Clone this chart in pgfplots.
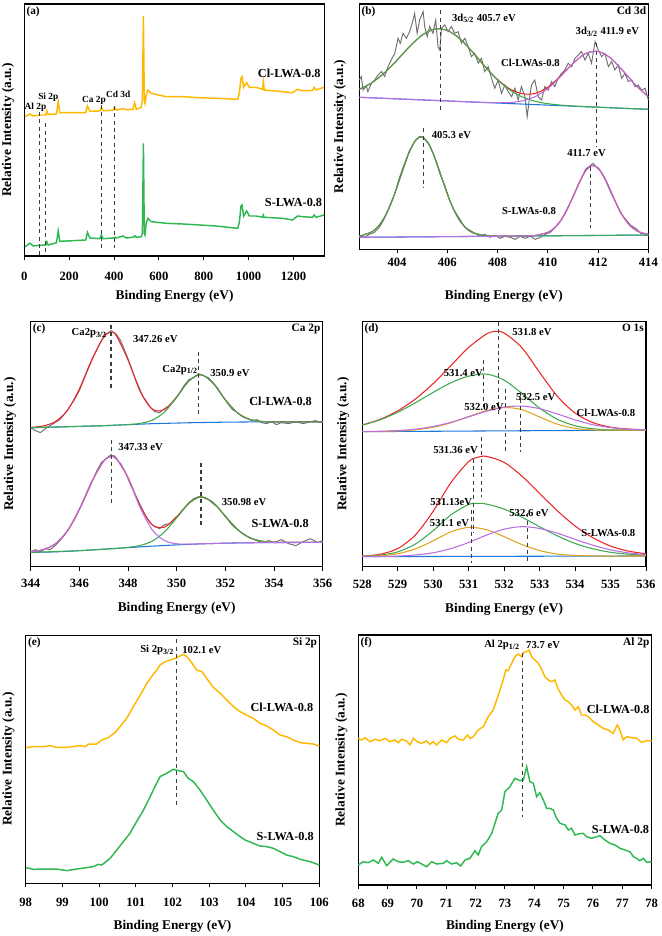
\documentclass[border=0pt]{standalone}
\usepackage{pgfplots}
\pgfplotsset{compat=1.18}
\usepackage{fontspec}
\setmainfont{Liberation Serif}
\definecolor{gold}{RGB}{255,184,0}
\definecolor{grn}{RGB}{46,184,82}
\definecolor{fred}{RGB}{235,40,40}
\definecolor{fgreen}{RGB}{60,170,80}
\definecolor{fpurple}{RGB}{185,110,225}
\definecolor{fblue}{RGB}{30,120,220}
\definecolor{forange}{RGB}{225,165,30}
\definecolor{rawgray}{RGB}{110,110,110}
\definecolor{dashc}{RGB}{60,60,60}
\newcommand{\pk}{\fontsize{8}{9}\selectfont\bfseries}
\newcommand{\smp}{\fontsize{9.2}{10}\selectfont\bfseries}
\newcommand{\tl}{\fontsize{8.5}{9}\selectfont\bfseries}
\pgfplotsset{
  panel/.style={
    scale only axis, anchor=south west, ymin=0,
    ytick=\empty, xtick pos=left, tick align=outside,
    major tick length=3pt,
    tick style={black, line width=0.7pt},
    axis line style={line width=0.8pt},
    clip=false,
    /pgf/number format/assume math mode=true,
    /pgf/number format/1000 sep={},
    ticklabel style={font=\fontsize{9.5}{10}\selectfont\bfseries},
    xlabel={Binding Energy (eV)},
    ylabel={Relative Intensity (a.u.)},
    label style={font=\fontsize{10}{11}\selectfont\bfseries},
  },
  raw/.style={line width=1.1pt},
  fit/.style={line width=0.8pt, smooth},
  gr/.style={rawgray, line width=0.7pt},
  dl/.style={dashc, line width=0.8pt, dash pattern=on 3pt off 2.5pt},
}
\begin{document}
\begin{tikzpicture}
\path[use as bounding box] (0,0) rectangle (495.75pt,702pt);
% ---------------- (a)
\begin{axis}[panel, at={(18.2pt,510pt)}, width=225.5pt, height=189pt,
  xmin=0, xmax=1340, ymax=252, xtick={0,200,...,1200},
  xticklabel style={anchor=center, yshift=-12.5pt},
  xlabel style={at={(axis description cs:0.5,-0.159)}, anchor=center},
  ylabel style={at={(axis description cs:-0.054,0.5)}, anchor=center}]
\addplot[raw, gold] coordinates {(3,139.3)(25.2,142.0)(40,140.0)(69.6,141.0)(96.3,141.0)(100.7,145.0)(106.7,141.7)(143.7,142.0)(151.1,154.3)(158.5,143.3)(217.8,143.3)(274.1,143.3)(281.5,150.0)(291.9,144.7)(336.3,145.0)(343.7,148.7)(351.1,145.3)(395.6,145.7)(403,148.7)(410.4,146.0)(440,147.3)(454.8,146.3)(484.4,146.7)(491.9,153.3)(499.3,146.7)(521.5,148.7)(526.5,156.0)(531,240.0)(535,156.0)(538,152.7)(543.7,161.0)(551.1,166.0)(565.9,162.7)(632.6,159.3)(706.7,159.3)(780.7,158.3)(854.8,157.7)(951.1,156.7)(958.5,162.7)(965.9,177.7)(970.4,179.3)(977.8,168.7)(991.1,173.3)(1003,168.7)(1032.6,168.7)(1062.2,166.7)(1065.2,174.3)(1069.6,166.0)(1151.1,164.3)(1195.6,163.3)(1217.8,166.7)(1240,165.3)(1284.4,165.3)(1291.9,168.7)(1299.3,166.0)(1336.3,168.7)};
\addplot[raw, grn] coordinates {(3,9.3)(25.2,12.7)(40,10.0)(69.6,10.7)(96.3,11.0)(100.7,14.3)(106.7,11.0)(143.7,13.3)(151.1,25.0)(158.5,14.7)(217.8,15.3)(274.1,16.0)(281.5,23.7)(291.9,18.0)(336.3,17.3)(343.7,21.0)(351.1,17.3)(395.6,18.0)(403,18.7)(410.4,18.0)(440,20.0)(454.8,18.0)(484.4,18.7)(491.9,20.3)(499.3,18.7)(521.5,19.3)(526.5,22.7)(531,112.7)(535,22.7)(538,21.0)(543.7,33.3)(551.1,37.7)(565.9,34.3)(632.6,32.7)(706.7,32.0)(780.7,31.0)(854.8,30.0)(951.1,27.7)(958.5,33.3)(965.9,50.0)(970.4,51.0)(977.8,40.0)(991.1,45.0)(1003,40.0)(1032.6,40.0)(1062.2,38.7)(1065.2,41.0)(1069.6,38.7)(1151.1,37.7)(1195.6,36.0)(1217.8,40.0)(1240,39.3)(1284.4,38.7)(1291.9,41.0)(1299.3,38.7)(1336.3,41.0)};
\addplot[dl] coordinates {(68,144)(68,1)};
\addplot[dl] coordinates {(96.5,132.7)(96.5,1)};
\addplot[dl] coordinates {(344,151)(344,6)};
\addplot[dl] coordinates {(403,150)(403,7.7)};
\node[font=\fontsize{7}{8}\selectfont\bfseries] at (axis cs:50,149) {Al 2p};
\node[font=\fontsize{7}{8}\selectfont\bfseries] at (axis cs:107,159) {Si 2p};
\node[font=\fontsize{7}{8}\selectfont\bfseries] at (axis cs:311,156) {Ca 2p};
\node[font=\fontsize{7}{8}\selectfont\bfseries] at (axis cs:419,162) {Cd 3d};
\node[font=\smp] at (axis cs:1181,183) {Cl-LWA-0.8};
\node[font=\smp] at (axis cs:1200,53) {S-LWA-0.8};
\node[font=\tl, anchor=north west, inner sep=1.5pt] at (rel axis cs:0,1) {(a)};
\end{axis}
% ---------------- (b)
\begin{axis}[panel, at={(269.5pt,515pt)}, width=216.75pt, height=184pt,
  xmin=402.5, xmax=414, ymax=245.3, xtick={404,406,...,414},
  xticklabel style={anchor=center, yshift=-6.5pt},
  xlabel style={at={(axis description cs:0.5,-0.19)}, anchor=center},
  ylabel style={at={(axis description cs:-0.067,0.5)}, anchor=center}]
\addplot[gr] coordinates {(402.5,169.3)(402.58,172.7)(402.65,159.3)(402.78,163.3)(402.84,157.7)(402.98,166)(403.11,169.3)(403.24,174.3)(403.38,177.7)(403.51,172.7)(403.64,182.7)(403.77,189.3)(403.91,196)(404.04,211)(404.13,206)(404.24,216)(404.37,211)(404.50,217.7)(404.64,229.3)(404.70,236)(404.80,216)(404.90,229.3)(405.04,237.7)(405.10,222.7)(405.20,212.7)(405.30,222.7)(405.43,216)(405.54,229.3)(405.63,202.7)(405.70,199.3)(405.77,221)(405.90,224.3)(406.03,217.7)(406.16,222.7)(406.30,216)(406.43,217.7)(406.56,206)(406.70,211)(406.83,202.7)(406.96,192.7)(407.09,196)(407.23,186)(407.36,191)(407.49,177.7)(407.63,182.7)(407.76,171)(407.89,161)(408.02,169.3)(408.16,156)(408.29,164.3)(408.42,157.7)(408.56,152.7)(408.69,161)(408.82,149.3)(408.95,162.7)(409.09,152.7)(409.18,132.7)(409.26,149.3)(409.35,164.3)(409.48,169.3)(409.62,152.7)(409.75,149.3)(409.88,162.7)(410.02,159.3)(410.15,167.7)(410.28,162.7)(410.41,171)(410.55,176)(410.68,179.3)(410.81,186)(410.95,182.7)(411.08,191)(411.21,194.3)(411.34,197.7)(411.48,189.3)(411.61,196)(411.74,186)(411.88,207.7)(412.01,199.3)(412.14,192.7)(412.27,196)(412.41,182.7)(412.54,187.7)(412.67,179.3)(412.80,184.3)(412.94,171)(413.07,176)(413.20,167.7)(413.34,169.3)(413.47,162.7)(413.60,164.3)(413.73,159.3)(413.87,161)(414.00,149.3)};
\addplot[gr] coordinates {(402.5,14)(402.7,12)(402.9,15)(403.1,17)(403.3,22)(403.5,31)(403.7,43)(403.9,55)(404.1,72)(404.3,86)(404.5,99)(404.7,108)(404.9,113)(405.0,112)(405.1,110)(405.3,104)(405.5,92)(405.7,76)(405.9,64)(406.1,48)(406.3,38)(406.5,30)(406.7,22)(406.9,19)(407.1,16)(407.3,13)(407.5,15)(407.7,12)(407.9,14)(408.1,11)(408.3,13)(408.5,12)(408.7,10)(408.9,13)(409.1,11)(409.3,13)(409.5,10)(409.7,12)(409.9,15)(410.1,17)(410.3,22)(410.5,28)(410.7,37)(410.9,47)(411.1,58)(411.3,69)(411.5,80)(411.7,84)(411.8,86)(411.9,83)(412.1,78)(412.3,69)(412.5,57)(412.7,47)(412.9,36)(413.1,30)(413.3,24)(413.5,21)(413.7,16)(413.9,15)(414,14)};
\addplot[fit, fblue] coordinates {(402.5,152)(414,140)};
\addplot[fit, fblue] coordinates {(402.5,12.0)(414,14.3)};
\addplot[fit, fred] coordinates {(402.5,160.0)(403,166.6)(403.5,176.5)(404,189.1)(404.5,202.8)(405,214.2)(405.5,220.3)(406,218.9)(406.5,210.6)(407,197.4)(407.5,182.8)(408,169.7)(408.5,160.2)(409,155.5)(409.5,155.9)(410,162.1)(410.5,173.1)(411,185.9)(411.5,195.7)(412,197.9)(412.5,191.2)(413,178.2)(413.5,164.1)(414,152.6)};
\addplot[fit, fgreen] coordinates {(402.5,160.0)(403,166.6)(403.5,176.5)(404,189.1)(404.5,202.8)(405,214.2)(405.5,220.3)(406,218.9)(406.5,210.6)(407,197.4)(407.5,182.7)(408,169.4)(408.5,159.1)(409,152.2)(409.5,147.9)(410,145.6)(410.5,144.2)(411,143.3)(411.5,142.6)(412,142.1)(413,141.0)(414,140.0)};
\addplot[fit, fpurple] coordinates {(402.5,152)(405,149.4)(407,147.3)(407.5,146.9)(408,146.6)(408.5,146.8)(409,148.5)(409.5,152.7)(410,160.7)(410.5,172.6)(411,185.7)(411.5,195.7)(412,197.9)(412.5,191.2)(413,178.2)(413.5,164.1)(414,152.6)};
\addplot[fit, fred] coordinates {(402.5,13.0)(403,17.5)(403.25,22.9)(403.5,32.0)(403.75,45.2)(404,62.3)(404.25,80.9)(404.5,98.0)(404.75,109.4)(405,112.3)(405.25,105.9)(405.5,91.8)(405.75,73.7)(406,55.5)(406.25,40.0)(406.5,28.6)(406.75,21.1)(407,16.8)(407.5,13.7)(408,13.2)(409,13.35)(409.5,13.9)(410,17.0)(410.25,21.2)(410.5,28.2)(410.75,38.9)(411,52.4)(411.25,66.7)(411.5,78.2)(411.75,83.7)(412,81.4)(412.25,72.0)(412.5,58.5)(412.75,44.5)(413,32.6)(413.25,24.2)(413.5,19.0)(413.75,16.4)(414,15.1)};
\addplot[fit, fgreen] coordinates {(402.5,13.0)(403,17.5)(403.25,22.9)(403.5,32.0)(403.75,45.2)(404,62.3)(404.25,80.9)(404.5,98.0)(404.75,109.4)(405,112.3)(405.25,105.9)(405.5,91.8)(405.75,73.7)(406,55.5)(406.25,40.0)(406.5,28.6)(406.75,21.1)(407,16.8)(407.5,13.7)(408,13.2)(409,13.3)(414,14.3)};
\addplot[fit, fpurple] coordinates {(402.5,12.0)(409,13.3)(409.5,13.9)(410,17.0)(410.25,21.2)(410.5,28.2)(410.75,38.9)(411,52.4)(411.25,66.7)(411.5,78.2)(411.75,83.7)(412,81.4)(412.25,72.0)(412.5,58.5)(412.75,44.5)(413,32.6)(413.25,24.2)(413.5,19.0)(413.75,16.4)(414,15.1)};
\addplot[dl] coordinates {(405.73,239)(405.73,137.7)};
\addplot[dl] coordinates {(411.94,206)(411.94,102.7)};
\addplot[dl] coordinates {(405.04,121)(405.04,61)};
\addplot[dl] coordinates {(411.68,82.7)(411.68,21)};
\node[font=\pk, anchor=west] at (axis cs:406.0,231) {3d\textsubscript{5/2} 405.7 eV};
\node[font=\pk] at (axis cs:412.37,217.7) {3d\textsubscript{3/2} 411.9 eV};
\node[font=\pk] at (axis cs:409.31,186) {Cl-LWAs-0.8};
\node[font=\pk, anchor=west] at (axis cs:405.2,114.3) {405.3 eV};
\node[font=\pk] at (axis cs:411.54,96) {411.7 eV};
\node[font=\pk] at (axis cs:409.25,38.7) {S-LWAs-0.8};
\node[font=\tl, anchor=north west, inner sep=1.5pt] at (rel axis cs:0,1) {(b)};
\node[font=\tl, anchor=north east, inner sep=1.5pt] at (rel axis cs:1,1) {Cd 3d};
\end{axis}
% ---------------- (c)
\begin{axis}[panel, at={(23pt,277pt)}, width=219pt, height=183.75pt,
  xmin=344, xmax=356, ymax=245, xtick={344,346,...,356},
  xticklabel style={anchor=center, yshift=-9.5pt},
  xlabel style={at={(axis description cs:0.5,-0.17)}, anchor=center},
  ylabel style={at={(axis description cs:-0.071,0.5)}, anchor=center}]
\addplot[gr] coordinates {(344.0,139)(344.2,136)(344.4,134)(344.6,138)(344.8,141)(345.0,144)(345.2,147)(345.5,156)(345.8,167)(346.0,176)(346.3,194)(346.6,211)(346.9,226)(347.1,232)(347.3,236)(347.5,233)(347.7,226)(348.0,208)(348.3,188)(348.6,171)(348.9,160)(349.1,155)(349.3,154)(349.5,158)(349.7,161)(349.9,166)(350.1,173)(350.3,181)(350.5,187)(350.7,189)(350.9,193)(351.1,191)(351.3,189)(351.5,184)(351.7,178)(351.9,170)(352.1,163)(352.3,157)(352.5,154)(352.7,150)(352.9,148)(353.1,146)(353.3,147)(353.5,144)(353.7,143)(353.9,145)(354.1,142)(354.3,144)(354.6,143)(354.9,145)(355.2,143)(355.5,145)(355.7,146)(356.0,144)};
\addplot[gr] coordinates {(344.0,15)(344.2,17)(344.4,15)(344.6,18)(344.8,17)(345.0,21)(345.2,26)(345.5,35)(345.8,47)(346.1,62)(346.4,78)(346.7,95)(346.9,104)(347.1,108)(347.3,112)(347.5,108)(347.7,103)(347.9,94)(348.1,82)(348.3,72)(348.5,62)(348.7,52)(348.9,44)(349.1,40)(349.3,38)(349.5,42)(349.7,43)(349.9,48)(350.1,52)(350.3,58)(350.5,64)(350.7,68)(350.9,70)(351.1,69)(351.3,67)(351.5,63)(351.7,59)(351.9,53)(352.1,47)(352.3,41)(352.5,37)(352.7,33)(352.9,30)(353.1,28)(353.3,26)(353.5,24)(353.8,26)(354.0,24)(354.3,27)(354.6,23)(354.9,21)(355.2,25)(355.5,28)(355.8,24)(356.0,26)};
\addplot[fit, fblue] coordinates {(344,139.0)(344.5,139.3)(345,139.6)(345.5,139.9)(346,140.3)(346.5,140.6)(347,141.0)(347.5,141.5)(348,142.0)(348.5,142.5)(349,143.0)(349.5,143.3)(350,143.6)(350.5,143.9)(351,144.1)(351.5,144.3)(352,144.5)(352.5,144.6)(353,144.7)(356,144.7)};
\addplot[fit, fred] coordinates {(344,139.3)(344.5,140.6)(345,144.9)(345.5,156.0)(346,177.6)(346.5,206.4)(347,229.6)(347.25,234.2)(347.5,231.8)(348,206.8)(348.5,175.3)(349,157.4)(349.5,157.2)(350,169.8)(350.5,185.6)(351,192.0)(351.5,183.3)(352,166.9)(352.5,153.8)(353,147.3)(353.5,145.2)(354,144.8)(356,144.7)};
\addplot[fit, fgreen] coordinates {(344,139.0)(347,141.0)(348,142.1)(348.5,143.3)(349,146.5)(349.5,154.6)(350,169.4)(350.5,185.6)(351,192.0)(351.5,183.3)(352,166.9)(352.5,153.8)(353,147.3)(353.5,145.2)(354,144.8)(356,144.7)};
\addplot[fit, fblue] coordinates {(344,14.3)(345,14.8)(346,16.0)(347,17.5)(348,19.0)(349,20.5)(350,21.8)(351,22.8)(352,23.5)(353,23.9)(354,24.1)(355,24.2)(356,24.3)};
\addplot[fit, fred] coordinates {(344,14.9)(344.5,16.9)(345,22.6)(345.5,35.6)(346,57.4)(346.5,84.3)(347,105.5)(347.33,110.3)(347.5,109.0)(348,89.2)(348.5,60.5)(349,41.8)(349.5,39.6)(350,49.9)(350.5,63.4)(351,69.8)(351.5,64.1)(352,50.5)(352.5,37.2)(353,29.0)(353.5,25.5)(354,24.4)(356,24.3)};
\addplot[fit, fgreen] coordinates {(344,14.3)(346,16.0)(347.5,18.2)(348,19.3)(348.5,21.2)(349,25.6)(349.5,34.7)(350,48.8)(350.5,63.2)(351,69.8)(351.5,64.1)(352,50.5)(352.5,37.2)(353,29.0)(353.5,25.5)(354,24.4)(356,24.3)};
\addplot[fit, fpurple] coordinates {(344,14.9)(344.5,16.9)(345,22.6)(345.5,35.6)(346,57.4)(346.5,84.3)(347,105.5)(347.33,110.3)(347.5,109.0)(348,88.9)(348.5,59.0)(349,36.7)(349.5,26.1)(350,22.9)(350.5,22.5)(351,22.8)(352,23.5)(353,23.9)(354,24.1)(356,24.3)};
\addplot[dl] coordinates {(347.3,241.7)(347.3,177.3)};
\addplot[dl] coordinates {(350.9,215)(350.9,151.7)};
\addplot[dl] coordinates {(347.33,126.7)(347.33,63.3)};
\addplot[dl] coordinates {(351.0,104)(351.0,41.7)};
\node[font=\pk] at (axis cs:346.41,233.3) {Ca2p\textsubscript{3/2}};
\node[font=\pk] at (axis cs:349.12,227.3) {347.26 eV};
\node[font=\pk] at (axis cs:350.14,196.7) {Ca2p\textsubscript{1/2}};
\node[font=\pk] at (axis cs:352.19,194) {350.9 eV};
\node[font=\smp] at (axis cs:354.27,165) {Cl-LWA-0.8};
\node[font=\pk] at (axis cs:348.52,120) {347.33 eV};
\node[font=\pk] at (axis cs:352.77,65) {350.98 eV};
\node[font=\smp] at (axis cs:354.25,42.7) {S-LWA-0.8};
\node[font=\tl, anchor=north west, inner sep=1.5pt] at (rel axis cs:0,1) {(c)};
\node[font=\tl, anchor=north east, inner sep=1.5pt] at (rel axis cs:1,1) {Ca 2p};
\end{axis}
% ---------------- (d)
\begin{axis}[panel, at={(271.7pt,277pt)}, width=212.8pt, height=183.75pt,
  xmin=528, xmax=536, ymax=245, xtick={528,529,...,536},
  xticklabel style={anchor=center, yshift=-10pt},
  xlabel style={at={(axis description cs:0.5,-0.173)}, anchor=center},
  ylabel style={at={(axis description cs:-0.067,0.5)}, anchor=center}]
\addplot[fit, fblue] coordinates {(528,135.0)(536,136.6)};
\addplot[fit, fred] coordinates {(528,141.7)(528.5,147.2)(529,155.8)(529.5,167.7)(530,183.1)(530.5,201.1)(531,219.2)(531.5,232.6)(531.75,235.2)(532,233.6)(532.5,219.0)(533,194.3)(533.5,170.4)(534,153.6)(534.5,144.1)(535,139.5)(535.5,137.6)(536,136.9)};
\addplot[fit, fgreen] coordinates {(528,141.6)(528.5,146.8)(529,154.4)(529.5,163.9)(530,174.3)(530.5,183.9)(531,190.5)(531.5,192.6)(532,186.5)(532.5,173.2)(533,158.6)(533.5,147.4)(534,140.9)(534.5,137.9)(535,136.8)(535.5,136.6)(536,136.6)};
\addplot[fit, forange] coordinates {(528,135.0)(528.5,135.2)(529,135.7)(529.5,136.9)(530,139.4)(530.5,143.9)(531,150.1)(531.5,156.0)(532,159.2)(532.5,157.0)(533,149.7)(533.5,142.5)(534,138.3)(534.5,136.8)(535,136.5)(536,136.6)};
\addplot[fit, fpurple] coordinates {(528,135.1)(528.5,135.4)(529,136.1)(529.5,137.5)(530,140.2)(530.5,144.3)(531,149.8)(531.5,155.4)(532,159.5)(532.5,160.6)(533,158.0)(533.5,152.7)(534,146.8)(534.5,142.0)(535,139.0)(535.5,137.5)(536,136.9)};
\addplot[fit, fblue] coordinates {(528,10.0)(536,10.7)};
\addplot[fit, fred] coordinates {(528,10.5)(528.5,12.4)(529,18.1)(529.5,31.8)(530,55.4)(530.5,84.1)(531,105.1)(531.25,109.3)(531.5,110.3)(532,104.3)(532.5,90.6)(533,73.2)(533.5,55.9)(534,40.7)(534.5,29.0)(535,20.6)(535.5,15.6)(536,12.9)};
\addplot[fit, fgreen] coordinates {(528,10.3)(528.5,11.5)(529,14.8)(529.5,22.7)(530,36.0)(530.5,51.8)(531,62.2)(531.25,63.3)(531.5,62.6)(532,57.6)(532.5,49.5)(533,39.9)(533.5,30.8)(534,23.2)(534.5,17.9)(535,14.4)(535.5,12.5)(536,11.5)};
\addplot[fit, forange] coordinates {(528,10.2)(528.5,10.9)(529,12.9)(529.5,17.8)(530,25.9)(530.5,34.8)(531,39.3)(531.5,37.0)(532,30.0)(532.5,22.1)(533,16.1)(533.5,12.6)(534,11.2)(534.5,10.8)(535,10.6)(536,10.7)};
\addplot[fit, fpurple] coordinates {(528,10.0)(528.5,10.2)(529,10.6)(529.5,11.7)(530,13.9)(530.5,18.1)(531,24.2)(531.5,31.5)(532,37.5)(532.5,40.0)(533,38.2)(533.5,33.5)(534,27.3)(534.5,21.5)(535,16.8)(535.5,13.8)(536,12.1)};
\addplot[dl] coordinates {(531.85,245)(531.85,151.7)};
\addplot[dl] coordinates {(531.43,206.7)(531.43,160)};
\addplot[dl] coordinates {(532.04,178)(532.04,115)};
\addplot[dl] coordinates {(532.46,175)(532.46,115)};
\addplot[dl] coordinates {(531.36,130)(531.36,70)};
\addplot[dl] coordinates {(531.13,108)(531.13,33.3)};
\addplot[dl] coordinates {(531.08,56.7)(531.08,3.3)};
\addplot[dl] coordinates {(532.65,53.3)(532.65,3.3)};
\node[font=\pk, anchor=west] at (axis cs:532.1,235) {531.8 eV};
\node[font=\pk] at (axis cs:530.85,194) {531.4 eV};
\node[font=\pk] at (axis cs:531.43,159.3) {532.0 eV};
\node[font=\pk] at (axis cs:532.89,169.3) {532.5 eV};
\node[font=\pk] at (axis cs:534.87,154) {Cl-LWAs-0.8};
\node[font=\pk] at (axis cs:530.63,116.7) {531.36 eV};
\node[font=\pk] at (axis cs:530.51,65) {531.13eV};
\node[font=\pk] at (axis cs:530.46,43.3) {531.1 eV};
\node[font=\pk] at (axis cs:532.70,53.3) {532.6 eV};
\node[font=\pk] at (axis cs:534.94,33.3) {S-LWAs-0.8};
\node[font=\tl, anchor=north west, inner sep=1.5pt] at (rel axis cs:0,1) {(d)};
\node[font=\tl, anchor=north east, inner sep=1.5pt] at (rel axis cs:1,1) {O 1s};
\end{axis}
% ---------------- (e)
\begin{axis}[panel, at={(19.3pt,39.5pt)}, width=220.2pt, height=186.2pt,
  xmin=98, xmax=106, ymax=248.3, xtick={98,99,...,106},
  xticklabel style={anchor=center, yshift=-11.5pt},
  xlabel style={at={(axis description cs:0.5,-0.172)}, anchor=center},
  ylabel style={at={(axis description cs:-0.059,0.5)}, anchor=center}]
\addplot[raw, gold] coordinates {(98.00,135.7)(98.21,136.7)(98.48,136.7)(98.66,137.7)(98.84,136)(99.12,136)(99.48,137.7)(99.62,136.7)(99.71,139.3)(99.93,139.3)(100.07,143.3)(100.25,145.7)(100.43,150.7)(100.57,156.7)(100.75,165)(100.93,176.7)(101.12,188.3)(101.30,200)(101.43,206.7)(101.57,213.3)(101.66,218.3)(101.80,221.7)(101.93,223.3)(102.07,225)(102.16,226.7)(102.30,229)(102.39,226.7)(102.52,220.7)(102.66,213.3)(102.80,211.7)(102.93,205)(103.11,196)(103.30,190)(103.48,183.3)(103.66,176.7)(103.84,171.7)(104.02,168.3)(104.20,165)(104.39,160)(104.57,157.3)(104.75,153.3)(104.93,148.3)(105.11,146.7)(105.29,143.3)(105.48,140.7)(105.66,140)(105.84,139.3)(106.00,137.3)};
\addplot[raw, grn] coordinates {(98.00,15.7)(98.21,14)(98.48,14.3)(98.84,14.3)(99.12,12.7)(99.39,14.3)(99.66,15.7)(99.84,16.7)(99.98,19)(100.07,18.3)(100.30,25)(100.48,33.3)(100.66,41.7)(100.84,50)(101.02,61.7)(101.21,73.3)(101.39,86.7)(101.52,96.7)(101.66,106.7)(101.84,110)(102.02,114)(102.16,112.7)(102.30,111.7)(102.43,105)(102.57,101.7)(102.75,93.3)(102.93,83.3)(103.11,73.3)(103.30,63.3)(103.48,56.7)(103.66,51.7)(103.84,46.7)(103.98,43.3)(104.20,40)(104.39,37.3)(104.57,36.7)(104.75,35)(104.93,31.7)(105.11,28.3)(105.29,26.7)(105.48,24)(105.75,21.7)(106.00,18.3)};
\addplot[dl] coordinates {(102.12,244)(102.12,76)};
\node[font=\pk] at (axis cs:101.58,233.3) {Si 2p\textsubscript{3/2}};
\node[font=\pk] at (axis cs:102.8,233.3) {102.1 eV};
\node[font=\smp] at (axis cs:104.98,175.7) {Cl-LWA-0.8};
\node[font=\smp] at (axis cs:105.07,47.3) {S-LWA-0.8};
\node[font=\tl, anchor=north west, inner sep=1.5pt] at (rel axis cs:0,1) {(e)};
\node[font=\tl, anchor=north east, inner sep=1.5pt] at (rel axis cs:1,1) {Si 2p};
\end{axis}
% ---------------- (f)
\begin{axis}[panel, at={(268.7pt,38.25pt)}, width=220pt, height=187.5pt,
  xmin=68, xmax=78, ymax=250, xtick={68,69,...,78},
  xticklabel style={anchor=center, yshift=-10.5pt},
  xlabel style={at={(axis description cs:0.5,-0.167)}, anchor=center},
  ylabel style={at={(axis description cs:-0.057,0.5)}, anchor=center}]
\addplot[raw, gold] coordinates {(68.00,146.7)(68.11,145)(68.23,147.3)(68.40,143.3)(68.57,145.7)(68.74,144.3)(68.91,146.7)(69.08,143.3)(69.25,145)(69.36,142.3)(69.48,145.7)(69.65,144)(69.76,140)(69.88,146.7)(70.01,143.3)(70.16,141.7)(70.33,144)(70.44,140.7)(70.56,143.3)(70.67,140)(70.84,145)(71.01,142.3)(71.13,146.7)(71.30,149)(71.41,145.7)(71.58,145)(71.72,150)(71.81,146.7)(71.92,148.3)(72.09,155)(72.26,158.3)(72.43,168.3)(72.60,175)(72.72,185)(72.83,195)(72.94,205)(73.03,215)(73.11,214.3)(73.23,221.7)(73.34,228.3)(73.45,231)(73.57,228.3)(73.65,232.7)(73.74,233.3)(73.82,235)(73.91,228.3)(74.02,225)(74.14,221.7)(74.25,215.7)(74.36,208.3)(74.48,205)(74.59,203.3)(74.70,205)(74.82,195.7)(74.93,190)(75.05,185)(75.16,183.3)(75.27,180)(75.39,175)(75.50,178.3)(75.61,170)(75.73,170)(75.84,168.3)(76.01,163.3)(76.18,160)(76.35,156.7)(76.52,155)(76.69,151.7)(76.83,160)(76.92,155)(77.03,145)(77.15,148.3)(77.32,147.3)(77.49,146.7)(77.66,142.7)(77.83,144.3)(78.00,144)};
\addplot[raw, grn] coordinates {(68.00,20)(68.17,23.3)(68.34,22.3)(68.51,25)(68.68,21.7)(68.80,27.7)(68.97,19.3)(69.19,26)(69.36,23.3)(69.53,22.7)(69.70,24.3)(69.88,21)(70.01,23.3)(70.16,21)(70.33,18.3)(70.50,23.3)(70.67,21)(70.90,21.7)(71.01,24.3)(71.18,21)(71.35,22.3)(71.49,19)(71.64,25)(71.81,26.7)(71.98,34.3)(72.09,30)(72.20,38.3)(72.38,43.3)(72.55,51.7)(72.66,61.7)(72.77,71.7)(72.89,75)(73.00,93.3)(73.17,98.3)(73.34,106.7)(73.51,104.3)(73.63,105)(73.74,118.3)(73.85,103.3)(73.97,101.7)(74.08,88.3)(74.19,92.3)(74.31,85)(74.42,76.7)(74.53,76.7)(74.65,75)(74.76,66.7)(74.88,61.7)(75.05,60)(75.16,55)(75.27,56.7)(75.39,50)(75.50,51)(75.67,51.7)(75.78,48.3)(75.95,46.7)(76.13,48.3)(76.24,49.3)(76.41,45)(76.58,41.7)(76.75,40)(76.92,36.7)(77.09,35)(77.26,33.3)(77.38,28.3)(77.49,26.7)(77.60,24.3)(77.72,26.7)(77.83,22.7)(78.00,23.3)};
\addplot[dl] coordinates {(73.6,231.7)(73.6,68.3)};
\node[font=\pk] at (axis cs:72.9,240) {Al 2p\textsubscript{1/2}};
\node[font=\pk] at (axis cs:74.3,240) {73.7 eV};
\node[font=\smp] at (axis cs:76.86,175.7) {Cl-LWA-0.8};
\node[font=\smp] at (axis cs:76.94,55) {S-LWA-0.8};
\node[font=\tl, anchor=north west, inner sep=1.5pt] at (rel axis cs:0,1) {(f)};
\node[font=\tl, anchor=north east, inner sep=1.5pt] at (rel axis cs:1,1) {Al 2p};
\end{axis}
\end{tikzpicture}
\end{document}
